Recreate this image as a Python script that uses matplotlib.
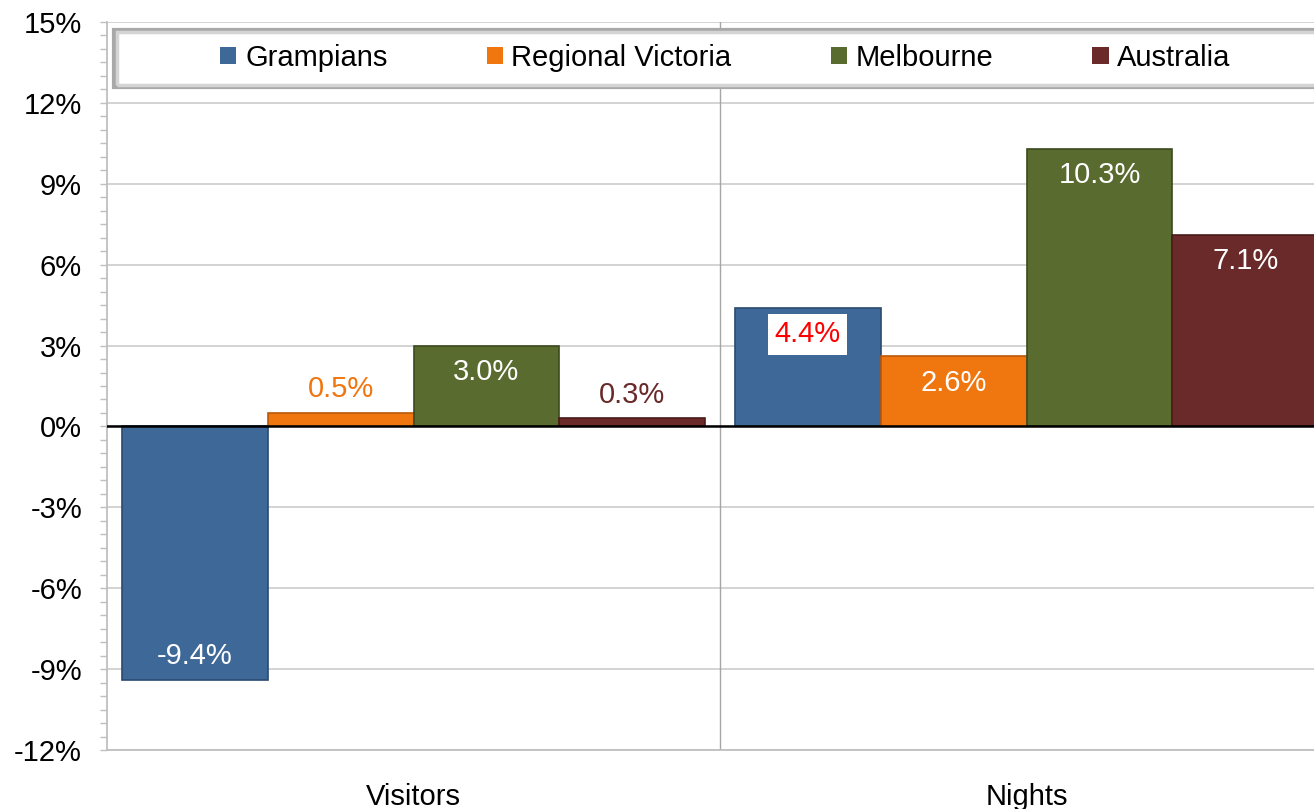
import numpy as np
import matplotlib
matplotlib.use("Agg")
import matplotlib.pyplot as plt
from matplotlib.patches import Rectangle
from matplotlib.ticker import MultipleLocator, FuncFormatter

# data (% change)
categories = ["Visitors", "Nights"]
series_names = ["Grampians", "Regional Victoria", "Melbourne", "Australia"]
grampians = [-9.4, 4.4]
regional_vic = [0.5, 2.6]
melbourne = [3.0, 10.3]
australia = [0.3, 7.1]
y_ticks = [-12, -9, -6, -3, 0, 3, 6, 9, 12, 15]

series_values = [grampians, regional_vic, melbourne, australia]
colors = ["#3e6898", "#f0760f", "#5a6b2f", "#6a2a29"]
edge_colors = ["#2a4a70", "#b9580a", "#3b4a1c", "#4a1b1a"]

# how each value label is drawn: inside (white), above the bar (series colour), or red on white box
label_mode = [["in", "box"], ["out", "in"], ["in", "in"], ["out", "in"]]

plt.rcParams['font.family'] = ['Liberation Sans', 'DejaVu Sans']
FS = 21

fig = plt.figure(figsize=(13.14, 8.09), dpi=100)
W, H = 1314, 809
ax = fig.add_axes([107 / W, (H - 750) / H, (W - 107) / W, (750 - 22) / H])

x = np.arange(len(categories))
bar_w = 0.238
offsets = (np.arange(4) - 1.5) * bar_w

for i, vals in enumerate(series_values):
    bars = ax.bar(x + offsets[i], vals, width=bar_w, color=colors[i],
                  edgecolor=edge_colors[i], linewidth=1.2, zorder=3,
                  label=series_names[i])
    for j, (b, v) in enumerate(zip(bars, vals)):
        cx = b.get_x() + b.get_width() / 2
        mode = label_mode[i][j]
        txt = f"{v:.1f}%"
        if mode == "out":
            ax.annotate(txt, (cx, v), xytext=(0, 17), textcoords="offset points",
                        ha="center", va="center", fontsize=FS, color=colors[i], zorder=5)
        else:
            dy = -19 if v >= 0 else 17
            kw = dict(ha="center", va="center", fontsize=FS, zorder=5)
            if mode == "box":
                kw.update(color="red", bbox=dict(boxstyle="square,pad=0.22",
                                                 facecolor="white", edgecolor="none"))
            else:
                kw.update(color="white")
            ax.annotate(txt, (cx, v), xytext=(0, dy), textcoords="offset points", **kw)

ax.set_xlim(-0.5, -0.5 + 1207 / 613)
ax.set_ylim(-12, 15)
ax.set_yticks(y_ticks)
ax.yaxis.set_major_formatter(FuncFormatter(lambda v, p: f"{v:.0f}%"))
ax.yaxis.set_minor_locator(MultipleLocator(0.5))
ax.set_xticks(x)
ax.set_xticklabels(categories)

ax.tick_params(axis="y", which="both", length=5, width=1, color="#bfbfbf",
               labelsize=FS, pad=13)
ax.tick_params(axis="x", length=0, labelsize=FS, pad=24)

ax.grid(axis="y", color="#d0d0d0", linewidth=1.3, zorder=0)
ax.set_axisbelow(True)
ax.axvline(0.5, color="#a6a6a6", linewidth=1, zorder=1)
ax.axhline(0, color="black", linewidth=1.8, zorder=4)

for s in ["top", "right"]:
    ax.spines[s].set_visible(False)
ax.spines["left"].set_color("#bfbfbf")
ax.spines["bottom"].set_color("#bfbfbf")
ax.spines["left"].set_linewidth(1.3)
ax.spines["bottom"].set_linewidth(1.3)

# legend frame (extends past the right edge like the original)
outer = Rectangle((114 / W, (H - 87) / H), (1345 - 114) / W, 57 / H,
                  transform=fig.transFigure, facecolor="white",
                  edgecolor="#a8a8a8", linewidth=3, zorder=2)
inner = Rectangle((116.5 / W, (H - 84.5) / H), (1345 - 117) / W, 52 / H,
                  transform=fig.transFigure, facecolor="none",
                  edgecolor="#d4d4d4", linewidth=2.5, zorder=2)
fig.patches.extend([outer, inner])

handles, labels = ax.get_legend_handles_labels()
leg = fig.legend(handles, labels, loc="center", bbox_to_anchor=(725.5 / W, 1 - 58 / H),
                 ncol=4, frameon=False, fontsize=FS, handlelength=0.55,
                 handleheight=0.55, handletextpad=0.3, columnspacing=3.4)
for h in leg.legend_handles:
    h.set_linewidth(0)
leg.set_zorder(3)

fig.savefig("out.png", dpi=100)
